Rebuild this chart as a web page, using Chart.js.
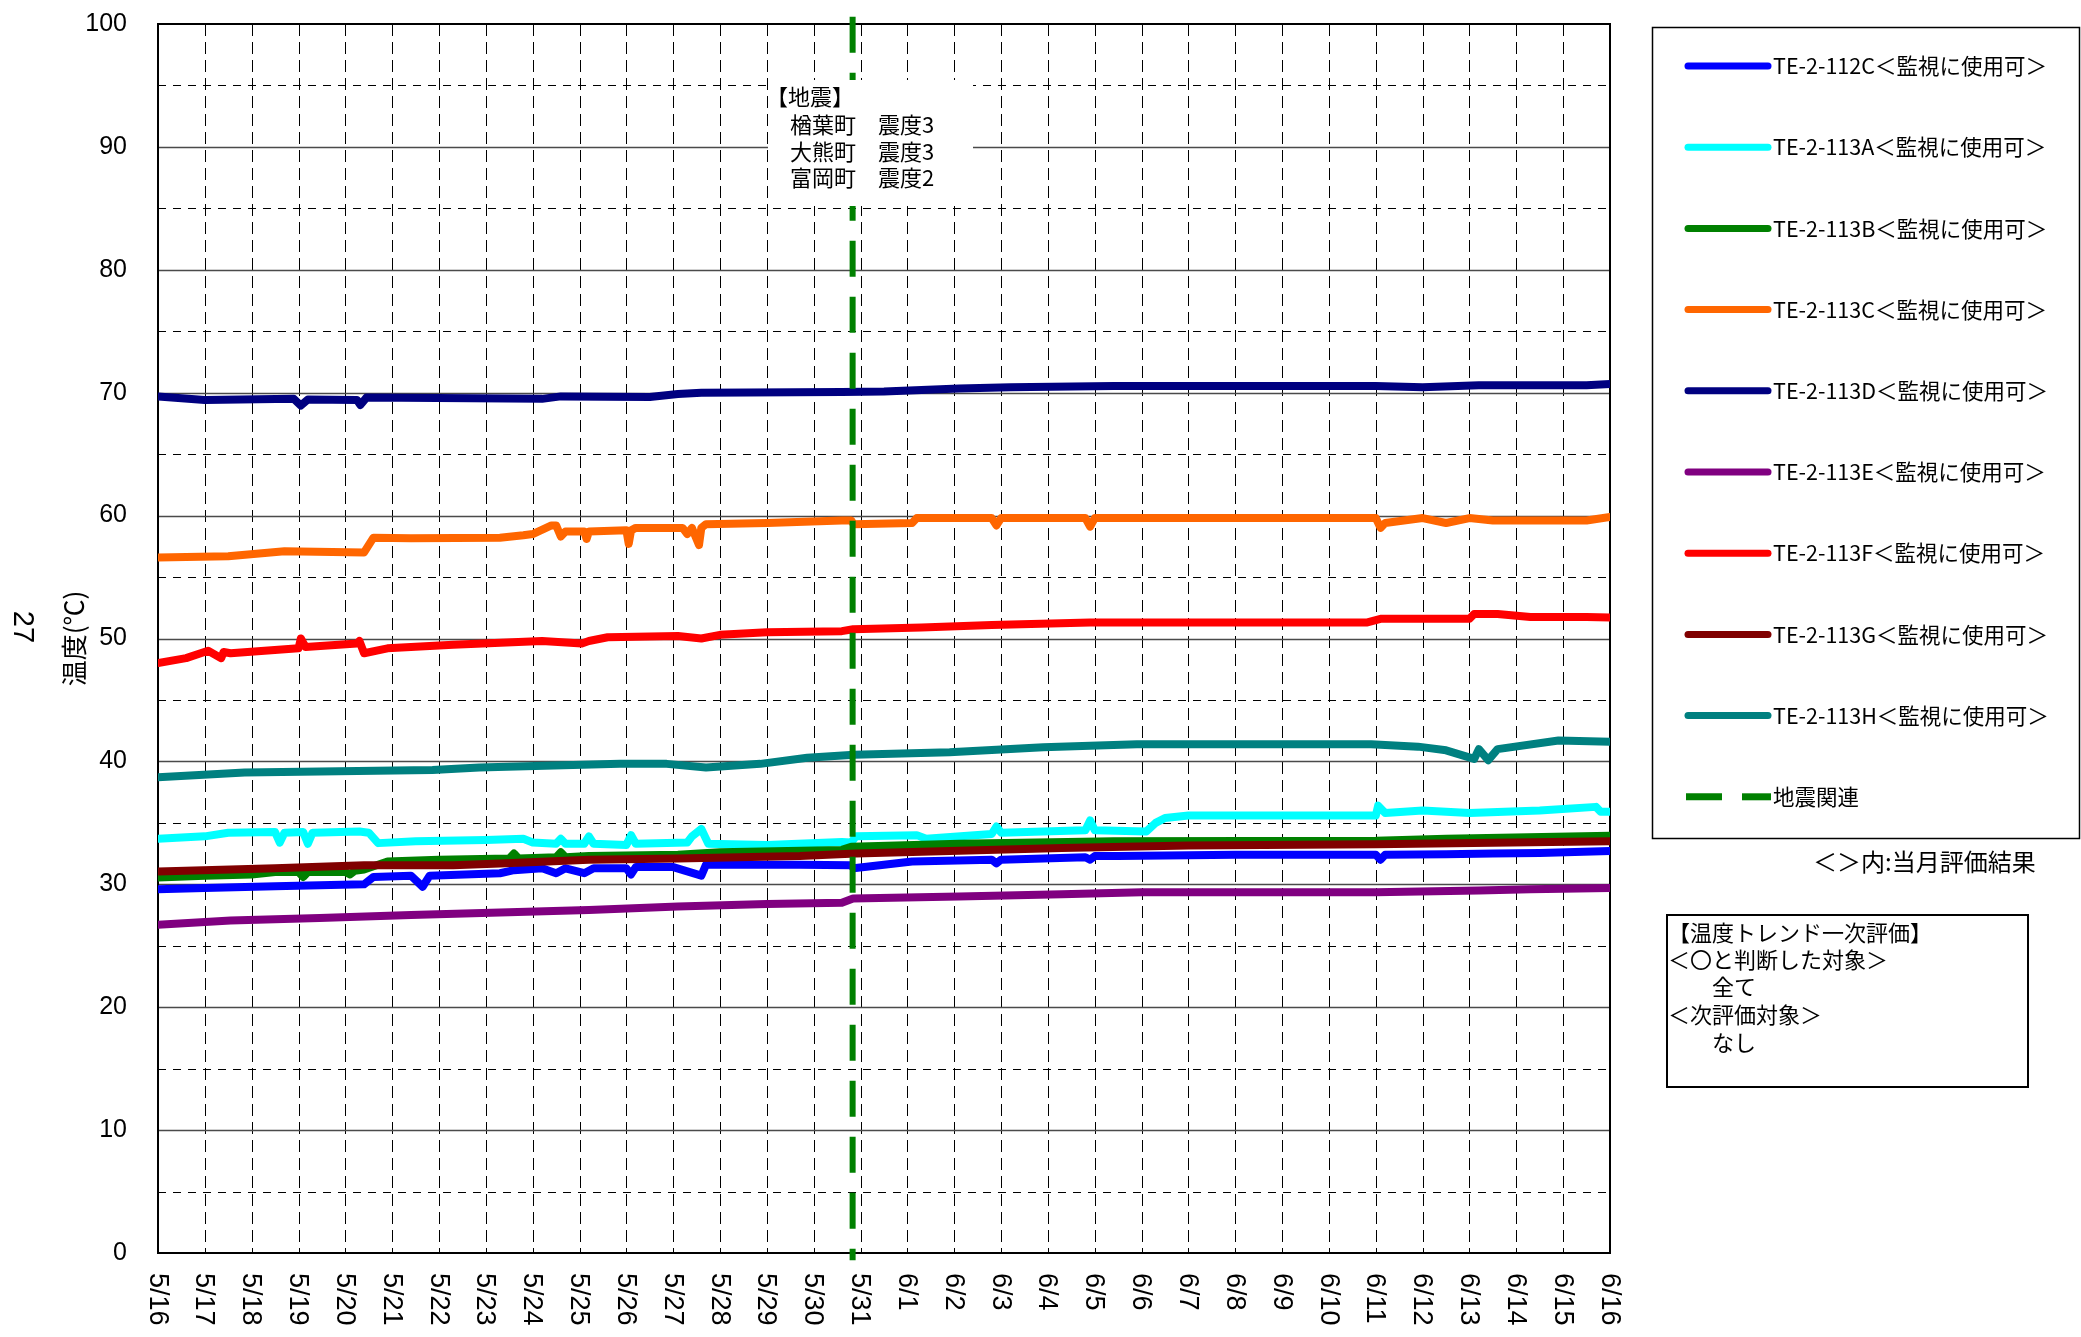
<!DOCTYPE html>
<html>
<head>
<meta charset="utf-8">
<script src="https://cdn.jsdelivr.net/npm/chart.js@4.4.1/dist/chart.umd.min.js"></script>
<style>
html,body{margin:0;padding:0;background:#fff;}
canvas{display:block;}
</style>
</head>
<body>
<canvas id="c" width="2081" height="1337" style="width:2081px;height:1337px"></canvas>
<script>
// ---- tick labels (days from 5/16) ----
const xLabels = ['5/16','5/17','5/18','5/19','5/20','5/21','5/22','5/23','5/24','5/25','5/26','5/27','5/28','5/29','5/30','5/31',
  '6/1','6/2','6/3','6/4','6/5','6/6','6/7','6/8','6/9','6/10','6/11','6/12','6/13','6/14','6/15','6/16'];
const quakeDay = 14.83;
const quakeLabel = '地震関連';

const seriesNames = ['TE-2-112C＜監視に使用可＞','TE-2-113A＜監視に使用可＞','TE-2-113B＜監視に使用可＞','TE-2-113C＜監視に使用可＞',
  'TE-2-113D＜監視に使用可＞','TE-2-113E＜監視に使用可＞','TE-2-113F＜監視に使用可＞','TE-2-113G＜監視に使用可＞','TE-2-113H＜監視に使用可＞'];
const seriesColors = ['#0000FF','#00FFFF','#008000','#FF6600','#000080','#800080','#FF0000','#800000','#008080'];

// TE-2-112C
const t112C = [0,1,2.5,4.4,4.6,5.4,5.65,5.8,7.3,7.6,8.2,8.5,8.7,9.1,9.3,10.0,10.1,10.2,11.0,11.6,11.7,13.7,14.8,14.85,16.1,17.8,17.9,18.0,19.8,19.9,20.0,20.5,23,26.0,26.1,26.2,27.5,28.5,29.5,31];
const v112C = [29.6,29.7,29.85,30.0,30.6,30.7,29.8,30.7,30.9,31.15,31.3,30.9,31.3,30.9,31.3,31.3,30.8,31.4,31.4,30.7,31.6,31.6,31.55,31.3,31.85,32.0,31.7,32.0,32.2,32.0,32.3,32.3,32.4,32.4,32.0,32.4,32.45,32.5,32.55,32.7];
// TE-2-113A
const t113A = [0,1,1.5,2.5,2.6,2.7,3.1,3.2,3.3,4.3,4.5,4.7,5.5,7.0,7.8,8.0,8.5,8.6,8.7,9.1,9.2,9.3,10.0,10.1,10.2,11.3,11.4,11.6,11.75,13.0,14.6,14.8,14.9,16.2,16.4,17.8,17.9,18.0,19.8,19.9,20.0,21.1,21.3,21.5,22,26.0,26.05,26.2,27,28,29.5,30.7,30.8,31];
const v113A = [33.7,33.9,34.2,34.25,33.4,34.2,34.25,33.3,34.2,34.3,34.2,33.35,33.5,33.6,33.7,33.4,33.3,33.7,33.3,33.3,33.9,33.3,33.2,34.0,33.3,33.4,33.9,34.5,33.3,33.2,33.45,33.4,33.9,34.0,33.7,34.1,34.7,34.2,34.4,35.2,34.4,34.3,35.0,35.4,35.6,35.6,36.4,35.8,36.0,35.8,36.0,36.3,35.9,35.9];
// TE-2-113B
const t113B = [0,1,2,2.5,3.0,3.1,3.2,4.0,4.1,4.2,4.4,4.9,6,7.5,7.6,7.7,8.5,8.6,8.7,9.2,11.1,12,14.6,14.8,17.1,20.4,26,27.5,31];
const v113B = [30.55,30.7,30.8,31.0,31.0,30.6,31.0,31.0,30.8,31.1,31.2,31.85,32.0,32.1,32.5,32.1,32.2,32.6,32.2,32.3,32.4,32.6,32.8,33.05,33.3,33.5,33.55,33.7,33.95];
// TE-2-113C
const t113C = [0,1.5,2.7,4.4,4.6,5.4,7.3,7.8,8.0,8.4,8.5,8.6,8.7,9.1,9.15,9.2,10.0,10.05,10.1,10.2,11.2,11.3,11.4,11.55,11.6,11.7,13.0,14.6,14.8,14.85,16.1,16.2,17.8,17.9,18.0,19.8,19.9,20.0,26.0,26.1,26.2,27.0,27.5,28,28.5,30.5,31];
const v113C = [56.6,56.7,57.1,57.0,58.2,58.15,58.2,58.4,58.5,59.2,59.2,58.3,58.7,58.7,58.1,58.7,58.8,57.7,58.8,59.0,59.0,58.5,59.0,57.6,59.0,59.3,59.4,59.6,59.6,59.3,59.4,59.8,59.8,59.2,59.8,59.8,59.1,59.8,59.8,59.0,59.4,59.8,59.4,59.8,59.6,59.6,59.9];
// TE-2-113D
const t113D = [0,1.0,2.9,3.05,3.2,4.25,4.32,4.45,8.2,8.6,10.5,11.1,11.6,14.6,15.5,17.1,18.2,20.4,26,27,28.2,30.5,31];
const v113D = [69.7,69.4,69.5,68.95,69.45,69.4,69.0,69.6,69.5,69.7,69.65,69.9,70.0,70.05,70.1,70.35,70.45,70.55,70.55,70.45,70.6,70.6,70.7];
// TE-2-113E
const t113E = [0,1.55,3.45,5.4,7.3,9.2,11.1,13.0,14.6,14.84,17.1,19.3,21,26,28.2,29.3,31];
const v113E = [26.7,27.05,27.25,27.5,27.7,27.9,28.2,28.4,28.5,28.85,29.0,29.2,29.35,29.35,29.5,29.6,29.7];
// TE-2-113F
const t113F = [0,0.6,1.07,1.35,1.4,1.55,3.0,3.05,3.15,4.25,4.3,4.4,4.9,6.3,8.2,9.05,9.2,9.6,11.1,11.6,12,13,14.6,14.84,16.3,17.8,19.9,21,25.8,26.1,28.0,28.1,28.6,29.3,30.5,31];
const v113F = [48.0,48.4,49.0,48.4,48.9,48.8,49.2,50.0,49.3,49.6,49.8,48.8,49.2,49.5,49.8,49.6,49.8,50.1,50.2,50.0,50.3,50.5,50.6,50.75,50.9,51.1,51.3,51.3,51.3,51.6,51.6,52.0,52.0,51.75,51.75,51.7];
// TE-2-113G
const t113G = [0,2.5,4.4,6.3,7.3,9.2,11.1,13.7,14.9,19.3,22,26,31];
const v113G = [31.05,31.3,31.55,31.55,31.7,32.0,32.1,32.3,32.5,32.95,33.15,33.25,33.5];
// TE-2-113H
const t113H = [0,1.85,3.86,5.86,6.86,8.86,9.86,10.86,11.7,12.86,13.86,14.86,16.9,18.9,20.9,25.9,26.9,27.5,28.1,28.2,28.4,28.6,29.9,31];
const v113H = [38.7,39.1,39.2,39.3,39.5,39.7,39.8,39.8,39.5,39.8,40.3,40.55,40.75,41.15,41.4,41.4,41.2,40.9,40.2,41.0,40.1,41.0,41.7,41.6];

const seriesTimes = [t112C,t113A,t113B,t113C,t113D,t113E,t113F,t113G,t113H];
const seriesValues = [v112C,v113A,v113B,v113C,v113D,v113E,v113F,v113G,v113H];

const quakeNote = ['【地震】','楢葉町','大熊町','富岡町'];
const quakeScale = ['震度3','震度3','震度2'];
const evalLines = ['【温度トレンド一次評価】','＜〇と判断した対象＞','　　全て','＜次評価対象＞','　　なし'];
const noteText = '＜＞内:当月評価結果';
const yTitle = '温度(℃)';
const pageNo = '27';

const JP = '"Noto Sans CJK JP", sans-serif';
const LAT = '"Liberation Sans", Arial, sans-serif';

const datasets = seriesNames.map((name, i) => ({
  label: name,
  data: seriesTimes[i].map((x, k) => ({x: x, y: seriesValues[i][k]})),
  borderColor: seriesColors[i],
  backgroundColor: seriesColors[i],
  borderWidth: 8,
  pointRadius: 0,
  tension: 0,
  borderCapStyle: 'round',
  borderJoinStyle: 'round',
  fill: false,
  order: 20 - i
}));
datasets.push({
  label: quakeLabel,
  data: [{x: quakeDay, y: 100.6}, {x: quakeDay, y: -0.6}],
  borderColor: '#008000',
  backgroundColor: '#008000',
  borderWidth: 6,
  borderDash: [36, 20],
  borderCapStyle: 'butt',
  pointRadius: 0,
  fill: false,
  clip: false,
  order: 0
});

const overlay = {
  id: 'overlay',
  beforeDatasetsDraw(chart) {
    const {ctx, chartArea: a, scales: {x, y}} = chart;
    ctx.save();
    ctx.strokeStyle = '#000';
    ctx.lineWidth = 1;
    ctx.setLineDash([12, 6]);
    for (let d = 1; d < xLabels.length - 1; d++) {
      const px = Math.round(x.getPixelForValue(d)) + 0.5;
      ctx.beginPath(); ctx.moveTo(px, a.top); ctx.lineTo(px, a.bottom); ctx.stroke();
    }
    const ticks = y.ticks.map(t => t.value);
    ctx.setLineDash([8, 7]);
    ctx.strokeStyle = '#000';
    for (let k = 0; k < ticks.length - 1; k++) {
      const mid = (ticks[k] + ticks[k + 1]) / 2;
      const py = Math.round(y.getPixelForValue(mid)) + 0.5;
      ctx.beginPath(); ctx.moveTo(a.left, py); ctx.lineTo(a.right, py); ctx.stroke();
    }
    ctx.setLineDash([]);
    ctx.strokeStyle = '#4a4a4a';
    ctx.lineWidth = 1.5;
    ticks.forEach(v => {
      if (v <= y.min || v >= y.max) return;
      const py = Math.round(y.getPixelForValue(v)) + 0.5;
      ctx.beginPath(); ctx.moveTo(a.left, py); ctx.lineTo(a.right, py); ctx.stroke();
    });
    ctx.strokeStyle = '#000';
    ctx.lineWidth = 2;
    ctx.strokeRect(a.left, a.top, a.right - a.left, a.bottom - a.top);
    ctx.restore();
  },
  afterDatasetsDraw(chart) {
    const {ctx} = chart;
    ctx.save();
    ctx.fillStyle = '#fff';
    ctx.fillRect(768, 80, 205, 126);
    ctx.fillStyle = '#000';
    ctx.font = '22px ' + JP;
    ctx.textBaseline = 'middle';
    ctx.textAlign = 'left';
    ctx.fillText(quakeNote[0], 766, 97);
    const ys = [125, 152, 178];
    for (let i = 0; i < 3; i++) {
      ctx.fillText(quakeNote[i + 1], 790, ys[i]);
      ctx.fillText(quakeScale[i], 878, ys[i]);
    }
    ctx.restore();
  },
  afterDraw(chart) {
    const {ctx, scales: {x, y}, chartArea: a} = chart;
    ctx.save();
    ctx.fillStyle = '#000';
    ctx.font = '27px ' + LAT;
    ctx.textAlign = 'left';
    ctx.textBaseline = 'middle';
    xLabels.forEach((lab, i) => {
      const px = x.getPixelForValue(i) - 1;
      ctx.save();
      ctx.translate(px, a.bottom + 20);
      ctx.rotate(Math.PI / 2);
      ctx.fillText(lab, 0, 0);
      ctx.restore();
    });
    ctx.save();
    ctx.font = '26px ' + JP;
    ctx.textAlign = 'center';
    ctx.textBaseline = 'middle';
    ctx.translate(74, (a.top + a.bottom) / 2);
    ctx.rotate(-Math.PI / 2);
    ctx.fillText(yTitle, 0, 0);
    ctx.restore();
    ctx.save();
    ctx.font = '29px ' + LAT;
    ctx.textAlign = 'center';
    ctx.textBaseline = 'middle';
    ctx.translate(22, 627);
    ctx.rotate(Math.PI / 2);
    ctx.fillText(pageNo, 0, 0);
    ctx.restore();

    ctx.strokeStyle = '#000';
    ctx.lineWidth = 1.5;
    ctx.strokeRect(1652.5, 27.5, 427, 811);
    const ds = chart.data.datasets;
    ctx.font = '21.5px ' + JP;
    ctx.textAlign = 'left';
    ctx.textBaseline = 'middle';
    ds.forEach((d, i) => {
      const ly = 66 + i * 81.2;
      ctx.strokeStyle = d.borderColor;
      ctx.lineWidth = 7;
      if (d.borderDash) {
        ctx.lineCap = 'butt';
        ctx.beginPath(); ctx.moveTo(1686, ly); ctx.lineTo(1722, ly); ctx.stroke();
        ctx.beginPath(); ctx.moveTo(1742, ly); ctx.lineTo(1771, ly); ctx.stroke();
      } else {
        ctx.lineCap = 'round';
        ctx.beginPath(); ctx.moveTo(1688, ly); ctx.lineTo(1768, ly); ctx.stroke();
      }
      ctx.fillStyle = '#000';
      ctx.fillText(d.label, 1773, ly);
    });
    ctx.font = '24px ' + JP;
    ctx.fillText(noteText, 1813, 862);
    ctx.lineWidth = 2;
    ctx.strokeStyle = '#000';
    ctx.strokeRect(1667, 915, 361, 172);
    ctx.font = '22px ' + JP;
    const ey = [933, 960, 987, 1015, 1043];
    evalLines.forEach((s, i) => ctx.fillText(s, 1668, ey[i]));
    ctx.restore();
  }
};

new Chart(document.getElementById('c'), {
  type: 'line',
  data: {datasets: datasets},
  options: {
    responsive: false,
    animation: false,
    devicePixelRatio: 1,
    layout: {padding: {top: 24, right: 471, left: 0, bottom: 0}},
    plugins: {legend: {display: false}, tooltip: {enabled: false}},
    scales: {
      x: {
        type: 'linear', min: 0, max: xLabels.length - 1,
        grid: {display: false, drawTicks: false},
        border: {display: false},
        ticks: {display: false, stepSize: 1},
        afterFit(s) { s.height = 84; s.paddingLeft = 0; s.paddingRight = 0; }
      },
      y: {
        min: 0, max: 100,
        grid: {display: false, drawTicks: false},
        border: {display: false},
        ticks: {stepSize: 10, padding: 31, color: '#000', font: {family: 'Liberation Sans', size: 25}},
        afterFit(s) { s.width = 158; s.paddingTop = 0; s.paddingBottom = 0; }
      }
    }
  },
  plugins: [overlay]
});
</script>
</body>
</html>
